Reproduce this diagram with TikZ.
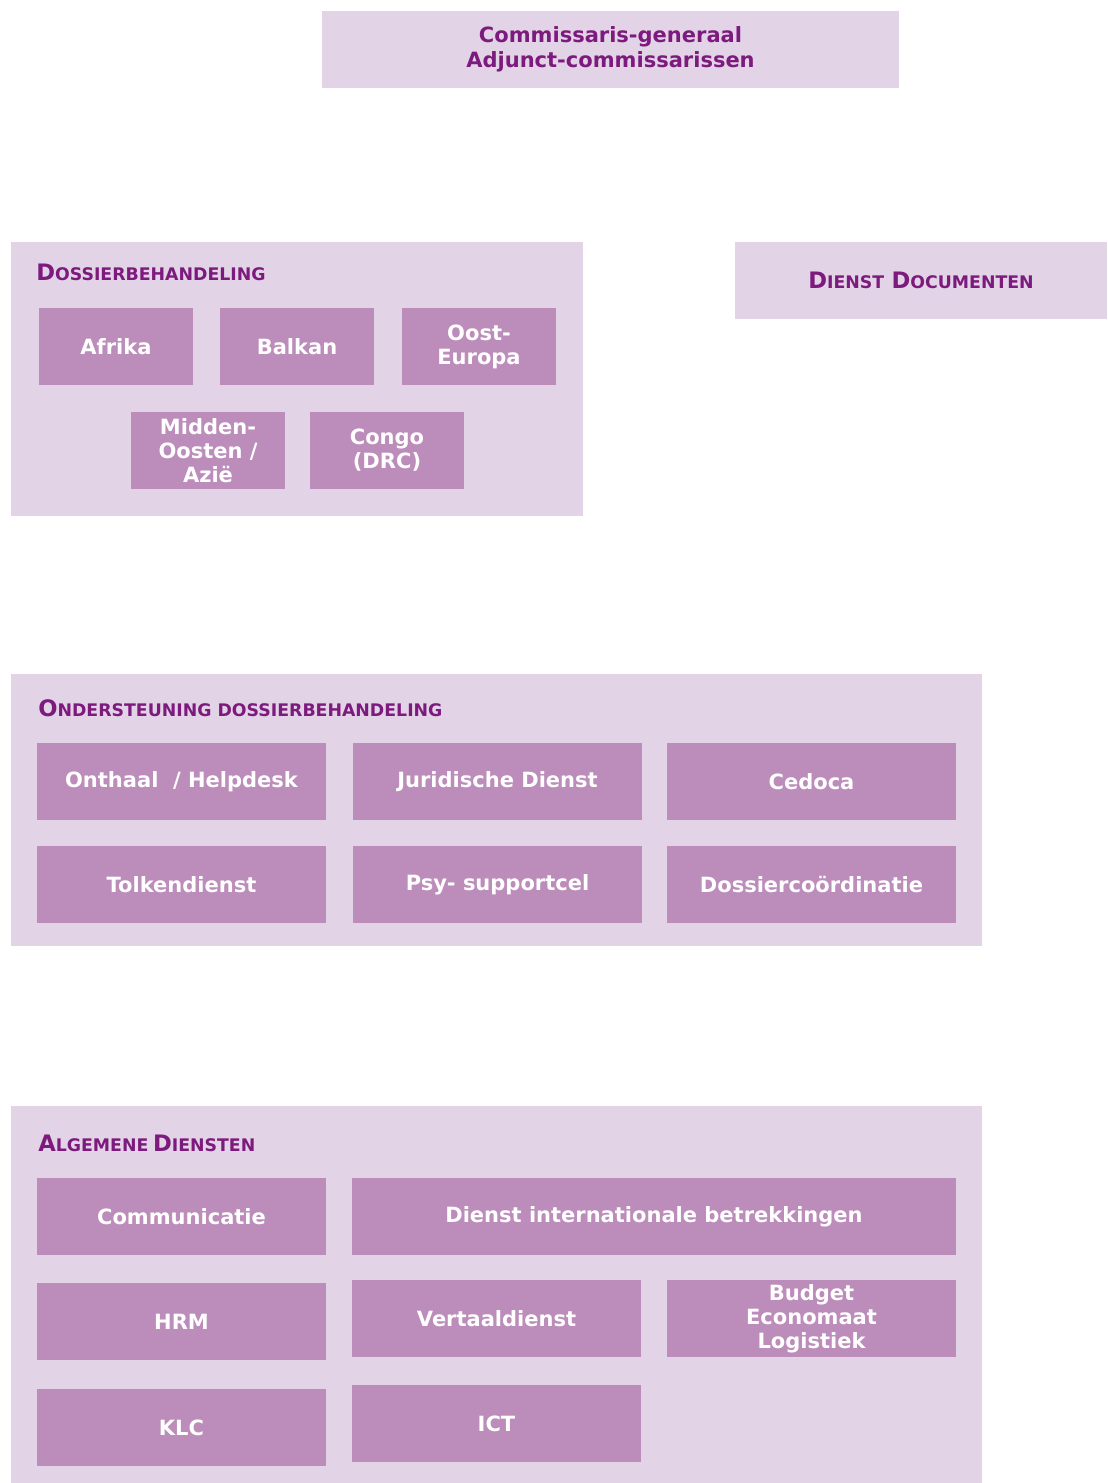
\documentclass[tikz,border=0pt]{standalone}
\usepackage{fontspec}
\setmainfont{DejaVu Sans}
\usetikzlibrary{positioning}
\definecolor{panelback}{HTML}{E2D3E7}
\definecolor{unitfill}{HTML}{BC8DBA}
\definecolor{headtext}{HTML}{7D1A7D}
\newcommand{\headsc}[2]{{\fontsize{17}{20}\selectfont #1}{\fontsize{13}{15}\selectfont #2}}
\tikzset{
    panel/.style={
        fill=panelback,
        draw=none
    },
    unit/.style={
        rectangle,
        fill=unitfill,
        text=white,
        inner sep=0pt,
        outer sep=0pt,
        minimum width=115.5pt,
        minimum height=57.75pt,
        align=center,
        font=\fontsize{15.75}{18}\selectfont\bfseries
    },
    wideunit/.style={
        unit,
        minimum width=216.75pt
    },
    heading/.style={
        anchor=base west,
        inner sep=0pt,
        text=headtext,
        font=\bfseries
    },
    topbox/.style={
        rectangle,
        fill=panelback,
        text=headtext,
        inner sep=0pt,
        outer sep=0pt,
        align=center,
        font=\fontsize{15.75}{18.75}\selectfont\bfseries
    }
}
\begin{document}
\begin{tikzpicture}[x=0.75pt, y=-0.75pt]
\useasboundingbox (0,0) rectangle (1107,1483);

% Top
\node[topbox, minimum width=432.75pt, minimum height=57.75pt, anchor=north west] (cg) at (322,11)
    {Commissaris-generaal\\Adjunct-commissarissen};

% Dossierbehandeling
\fill[panel] (11,242) rectangle (583,516);
\node[heading] (dbhead) at (36,281) {\headsc{D}{OSSIERBEHANDELING}};
\node[unit, anchor=north west] (afrika) at (39,308) {Afrika};
\node[unit, right=20.25pt of afrika] (balkan) {Balkan};
\node[unit, right=21pt of balkan] (oosteur) {Oost-\\Europa};
\node[unit, anchor=north west] (midoost) at (131,412) {Midden-\\Oosten /\\Azië};
\node[unit, right=18.75pt of midoost] (congo) {Congo\\(DRC)};

% Dienst Documenten
\node[topbox, minimum width=279pt, minimum height=57.75pt, anchor=north west] (docs) at (735,242)
    {\headsc{D}{IENST} \headsc{D}{OCUMENTEN}};

% Ondersteuning dossierbehandeling
\fill[panel] (11,674) rectangle (982,946);
\node[heading] (odhead) at (38,716) {\headsc{O}{NDERSTEUNING DOSSIERBEHANDELING}};
\node[wideunit, anchor=north west] (onthaal) at (37,743) {Onthaal~~/ Helpdesk};
\node[wideunit, right=20.25pt of onthaal] (juridisch) {Juridische Dienst};
\node[wideunit, right=18.75pt of juridisch] (cedoca) {Cedoca};
\node[wideunit, anchor=north west] (tolk) at (37,846) {Tolkendienst};
\node[wideunit, right=20.25pt of tolk] (psy) {Psy- supportcel};
\node[wideunit, right=18.75pt of psy] (dossco) {Dossiercoördinatie};

% Algemene diensten
\fill[panel] (11,1106) rectangle (982,1483);
\node[heading] (adhead) at (38,1151) {\headsc{A}{LGEMENE} \headsc{D}{IENSTEN}};
\node[wideunit, anchor=north west] (comm) at (37,1178) {Communicatie};
\node[wideunit, minimum width=453pt, right=19.5pt of comm] (dib) {Dienst internationale betrekkingen};
\node[wideunit, anchor=north west] (hrm) at (37,1283) {HRM};
\node[wideunit, anchor=north west] (vertaal) at (352,1280) {Vertaaldienst};
\node[wideunit, right=19.5pt of vertaal] (budget) {Budget\\Economaat\\Logistiek};
\node[wideunit, anchor=north west] (klc) at (37,1389) {KLC};
\node[wideunit, anchor=north west] (ict) at (352,1385) {ICT};

\end{tikzpicture}
\end{document}
